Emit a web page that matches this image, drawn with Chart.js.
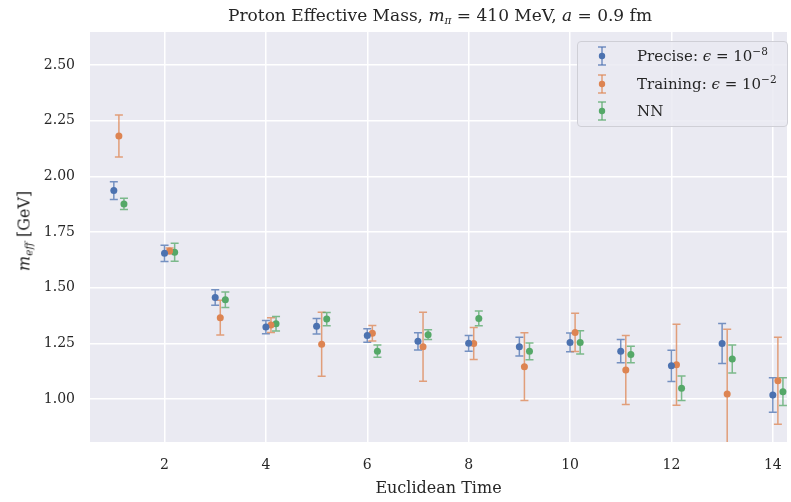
<!DOCTYPE html>
<html>
<head>
<meta charset="utf-8">
<script src="https://cdn.jsdelivr.net/npm/chart.js@4.4.1/dist/chart.umd.min.js"></script>
<style>
  html, body { margin: 0; padding: 0; background: #fff; }
  #wrap { position: relative; width: 791px; height: 502px; font-family: 'DejaVu Serif', serif; color: #262626; }
  #chart { position: absolute; left: 0; top: 0; }
  #title { position: absolute; left: 90px; width: 700px; top: 5px; text-align: center; font-size: 17px; }
  #ylabel { position: absolute; left: 24px; top: 231px; transform: translate(-50%, -50%) rotate(-90deg); font-size: 16px; white-space: nowrap; }
  #legend { position: absolute; left: 577px; top: 41px; width: 211px; height: 86px; box-sizing: border-box;
            border: 1px solid #cfcfd6; border-radius: 4px; background: rgba(234,234,242,0.85); font-size: 15px; }
  .row { position: absolute; left: 0; height: 24px; display: flex; align-items: center; white-space: nowrap; }
  .row svg { margin-left: 19px; margin-right: 30px; }
  sup { font-size: 10.5px; vertical-align: 6px; line-height: 0; }
  sub { font-size: 10.5px; vertical-align: -3px; line-height: 0; }
</style>
</head>
<body>
<div id="wrap">
  <canvas id="chart" width="791" height="502"></canvas>
  <div id="title">Proton Effective Mass, <i>m</i><sub><i>π</i></sub> = 410 MeV, <i>a</i> = 0.9 fm</div>
  <div id="ylabel"><i>m</i><sub><i>eff</i></sub> [GeV]</div>
  <div id="legend"></div>
</div>
<script>
// Euclidean time slices
const times = [1, 2, 3, 4, 5, 6, 7, 8, 9, 10, 11, 12, 13, 14];

// Precise: eps = 1e-8
const preciseMean = [1.936, 1.654, 1.456, 1.323, 1.327, 1.285, 1.259, 1.250, 1.235, 1.254, 1.215, 1.149, 1.249, 1.018];
const preciseErr  = [0.040, 0.037, 0.035, 0.030, 0.035, 0.030, 0.039, 0.035, 0.042, 0.042, 0.052, 0.070, 0.090, 0.077];

// Training: eps = 1e-2
const trainingMean = [2.181, 1.665, 1.365, 1.332, 1.246, 1.295, 1.235, 1.249, 1.145, 1.299, 1.130, 1.154, 1.023, 1.082];
const trainingErr  = [0.094, 0.013, 0.078, 0.033, 0.144, 0.035, 0.155, 0.072, 0.152, 0.086, 0.155, 0.182, 0.290, 0.195];

// NN prediction
const nnMean = [1.876, 1.659, 1.446, 1.338, 1.359, 1.215, 1.289, 1.362, 1.214, 1.254, 1.200, 1.048, 1.180, 1.033];
const nnErr  = [0.025, 0.040, 0.035, 0.033, 0.030, 0.028, 0.022, 0.033, 0.038, 0.052, 0.037, 0.055, 0.063, 0.062];

const xTicks = [2, 4, 6, 8, 10, 12, 14];
const yTicks = [1.00, 1.25, 1.50, 1.75, 2.00, 2.25, 2.50];

const series = [
  { label: 'Precise: <i>ϵ</i> = 10<sup>−8</sup>', color: '#4C72B0', mean: preciseMean, err: preciseErr, shift: 0 },
  { label: 'Training: <i>ϵ</i> = 10<sup>−2</sup>', color: '#DD8452', mean: trainingMean, err: trainingErr, shift: 0.1 },
  { label: 'NN', color: '#55A868', mean: nnMean, err: nnErr, shift: 0.2 },
];

function hexA(hex, a) {
  const n = parseInt(hex.slice(1), 16);
  return `rgba(${n >> 16}, ${(n >> 8) & 255}, ${n & 255}, ${a})`;
}

// --- plot background and error bars ---

const panelBg = {
  id: 'panelBg',
  beforeDraw(chart) {
    const { ctx, chartArea: a } = chart;
    ctx.save();
    ctx.fillStyle = '#EAEAF2';
    ctx.fillRect(a.left, a.top, a.right - a.left, a.bottom - a.top);
    ctx.restore();
  },
};

const errorBars = {
  id: 'errorBars',
  beforeDatasetsDraw(chart) {
    const { ctx, chartArea: a, scales } = chart;
    ctx.save();
    ctx.beginPath();
    ctx.rect(a.left, a.top, a.right - a.left, a.bottom - a.top);
    ctx.clip();
    ctx.lineWidth = 1.5;
    chart.data.datasets.forEach((ds) => {
      ctx.strokeStyle = hexA(ds.borderColor, 0.75);
      ds.data.forEach((p) => {
        const x = scales.x.getPixelForValue(p.x);
        const y0 = scales.y.getPixelForValue(p.y - p.e);
        const y1 = scales.y.getPixelForValue(p.y + p.e);
        ctx.beginPath();
        ctx.moveTo(x, y0); ctx.lineTo(x, y1);
        ctx.moveTo(x - 4, y0); ctx.lineTo(x + 4, y0);
        ctx.moveTo(x - 4, y1); ctx.lineTo(x + 4, y1);
        ctx.stroke();
      });
    });
    ctx.restore();
  },
};

const datasets = series.map((s) => ({
  label: s.label,
  data: times.map((t, i) => ({ x: t + s.shift, y: s.mean[i], e: s.err[i] })),
  backgroundColor: s.color,
  borderColor: s.color,
  pointRadius: 3.5,
  pointBorderWidth: 0,
  showLine: false,
}));

new Chart(document.getElementById('chart'), {
  type: 'scatter',
  data: { datasets },
  plugins: [panelBg, errorBars],
  options: {
    responsive: false,
    animation: false,
    layout: { padding: { top: 32, right: 1, left: 0, bottom: 0 } },
    plugins: { legend: { display: false }, tooltip: { enabled: false } },
    scales: {
      x: {
        min: 0.53,
        max: 14.28,
        afterFit: (s) => { s.height = 60; s.paddingLeft = 0; s.paddingRight = 0; },
        afterBuildTicks: (s) => { s.ticks = xTicks.map((v) => ({ value: v })); },
        grid: { color: '#FFFFFF', lineWidth: 1.5, drawTicks: false },
        border: { display: false },
        ticks: { padding: 15, color: '#262626', font: { family: 'DejaVu Serif', size: 14 } },
        title: { display: true, text: 'Euclidean Time', color: '#262626', padding: { top: 4 },
                 font: { family: 'DejaVu Serif', size: 16 } },
      },
      y: {
        min: 0.807,
        max: 2.648,
        afterFit: (s) => { s.width = 90; s.paddingTop = 0; s.paddingBottom = 0; },
        afterBuildTicks: (s) => { s.ticks = yTicks.map((v) => ({ value: v })); },
        grid: { color: '#FFFFFF', lineWidth: 1.5, drawTicks: false },
        border: { display: false },
        ticks: { padding: 15, color: '#262626', font: { family: 'DejaVu Serif', size: 14 },
                 callback: (v) => v.toFixed(2) },
      },
    },
  },
});

// --- legend ---

const legend = document.getElementById('legend');
series.forEach((s, i) => {
  const row = document.createElement('div');
  row.className = 'row';
  row.style.top = (2 + i * 27.5) + 'px';
  row.innerHTML = `<svg width="10" height="22" viewBox="0 0 10 22">
      <g stroke="${hexA(s.color, 0.75)}" stroke-width="1.5">
        <line x1="5" y1="2" x2="5" y2="20"/><line x1="1" y1="2" x2="9" y2="2"/><line x1="1" y1="20" x2="9" y2="20"/>
      </g><circle cx="5" cy="11" r="3.2" fill="${s.color}"/></svg><span>${s.label}</span>`;
  legend.appendChild(row);
});
</script>
</body>
</html>
